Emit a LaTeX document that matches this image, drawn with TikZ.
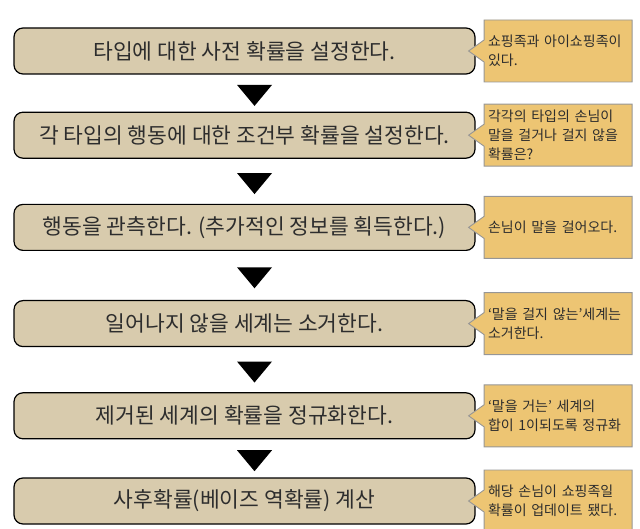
\documentclass[tikz,border=0pt]{standalone}
\usepackage{fontspec}
\setmainfont{Noto Sans CJK KR}
\usetikzlibrary{calc,positioning,shapes.callouts,shapes.geometric}
\definecolor{steptan}{RGB}{216,203,173}
\definecolor{noteyellow}{RGB}{237,197,115}
\definecolor{notegrey}{RGB}{150,150,150}
\definecolor{textdark}{RGB}{45,45,45}
\tikzset{
  stepbox/.style={
    draw=black,
    line width=1.2pt,
    rounded corners=9pt,
    fill=steptan,
    minimum width=461pt,
    minimum height=46pt,
    inner sep=0pt,
    text=textdark,
    font=\fontsize{21.5}{25}\selectfont
  },
  notebox/.style={
    rectangle callout,
    draw=notegrey,
    line width=0.9pt,
    fill=noteyellow,
    minimum width=148pt,
    minimum height=62pt,
    text width=140pt,
    inner xsep=4pt,
    inner ysep=0pt,
    align=left,
    callout pointer width=22pt,
    text=textdark,
    font=\fontsize{14}{19}\selectfont
  },
  downtri/.style={
    isosceles triangle,
    isosceles triangle stretches,
    shape border rotate=-90,
    fill=black,
    minimum width=35pt,
    minimum height=21pt,
    inner sep=0pt
  }
}

\begin{document}
\begin{tikzpicture}
  \useasboundingbox (0,0) rectangle (640pt,-529pt);

  \node[stepbox] (s1) at (244.5pt,-51pt) {타입에 대한 사전 확률을 설정한다.};
  \node[stepbox,below=37pt of s1] (s2) {각 타입의 행동에 대한 조건부 확률을 설정한다.};
  \node[stepbox,below=45pt of s2] (s3) {행동을 관측한다. (추가적인 정보를 획득한다.)};
  \node[stepbox,below=49pt of s3] (s4) {일어나지 않을 세계는 소거한다.};
  \node[stepbox,below=45pt of s4] (s5) {제거된 세계의 확률을 정규화한다.};
  \node[stepbox,below=38pt of s5] (s6) {사후확률(베이즈 역확률) 계산};

  \foreach \a/\b in {s1/s2,s2/s3,s3/s4,s4/s5,s5/s6}
    \node[downtri] (tri-\a) at ($(\a.south)!0.5!(\b.north)+(10pt,0)$) {};

  % notes on the right
  \foreach \s/\txt in {
      s1/{쇼핑족과 아이쇼핑족이\\있다.},
      s2/{각각의 타입의 손님이\\말을 걸거나 걸지 않을\\확률은?},
      s3/{손님이 말을 걸어오다.},
      s4/{‘말을 걸지 않는’세계는\\소거한다.},
      s5/{‘말을 거는’ 세계의\\합이 1이되도록 정규화},
      s6/{해당 손님이 쇼핑족일\\확률이 업데이트 됐다.}}
    \node[notebox,right=8pt of \s,
      callout absolute pointer={($(\s.east)+(-7pt,0)$)}] (note-\s) {\txt};
\end{tikzpicture}
\end{document}
